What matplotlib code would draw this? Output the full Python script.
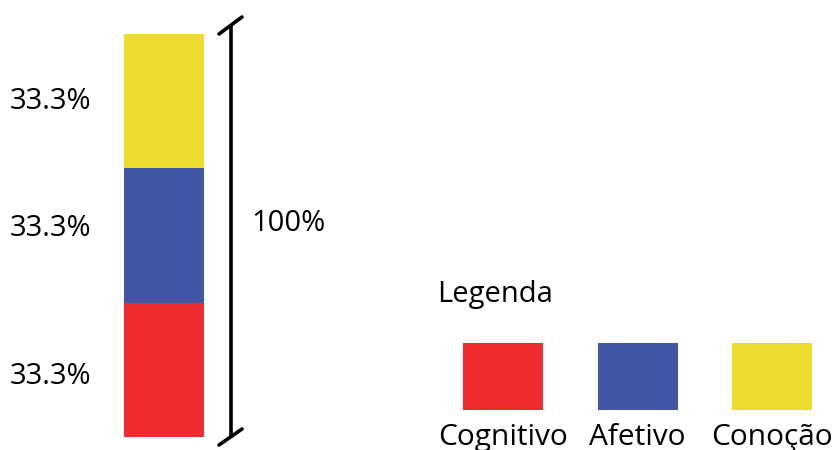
import matplotlib
matplotlib.use("Agg")
import matplotlib.pyplot as plt
from matplotlib.patches import Rectangle

# data
categories = ["Cognitivo", "Afetivo", "Conoção"]
shares = [33.3, 33.3, 33.3]
colors = ["#EE2B2F", "#4356A5", "#EDDC2E"]
total_label = "100%"
legend_title = "Legenda"

plt.rcParams["font.family"] = ["Open Sans", "DejaVu Sans"]

W, H = 832, 450
fig = plt.figure(figsize=(W / 100, H / 100), dpi=100)

# overlay in pixel coords for annotations
ov = fig.add_axes([0, 0, 1, 1])
ov.set_xlim(0, W)
ov.set_ylim(H, 0)
ov.axis("off")

# stacked bar
ax = fig.add_axes([124 / W, (H - 437) / H, 80 / W, 403 / H])
bottom = 0
for val, col in zip(shares, colors):
    ax.bar(0, val, bottom=bottom, width=1, color=col, linewidth=0)
    bottom += val
ax.set_xlim(-0.5, 0.5)
ax.set_ylim(0, sum(shares))
ax.axis("off")

# percentage labels (baselines, bottom segment first)
label_base = [384, 236, 109]
for val, yb in zip(shares, label_base):
    ov.text(10, yb, f"{val}%", fontsize=21, va="baseline", ha="left")

# total bracket line
ov.plot([231, 231], [26, 438], color="black", lw=2.6, solid_capstyle="butt")
ov.plot([219, 242], [34, 17], color="black", lw=2.6, solid_capstyle="round")
ov.plot([219, 242], [445, 429], color="black", lw=2.6, solid_capstyle="round")
ov.text(251, 231, total_label, fontsize=21, va="baseline", ha="left")

# legend
ov.text(437, 302, legend_title, fontsize=21, va="baseline", ha="left")
for i, (cat, col) in enumerate(zip(categories, colors)):
    x0 = 463 + i * 134.5
    ov.add_patch(Rectangle((x0, 343), 80, 67, color=col, lw=0))
    ov.text(x0 + 40, 445, cat, fontsize=21.5, va="baseline", ha="center")

fig.savefig("out.png", dpi=100)
